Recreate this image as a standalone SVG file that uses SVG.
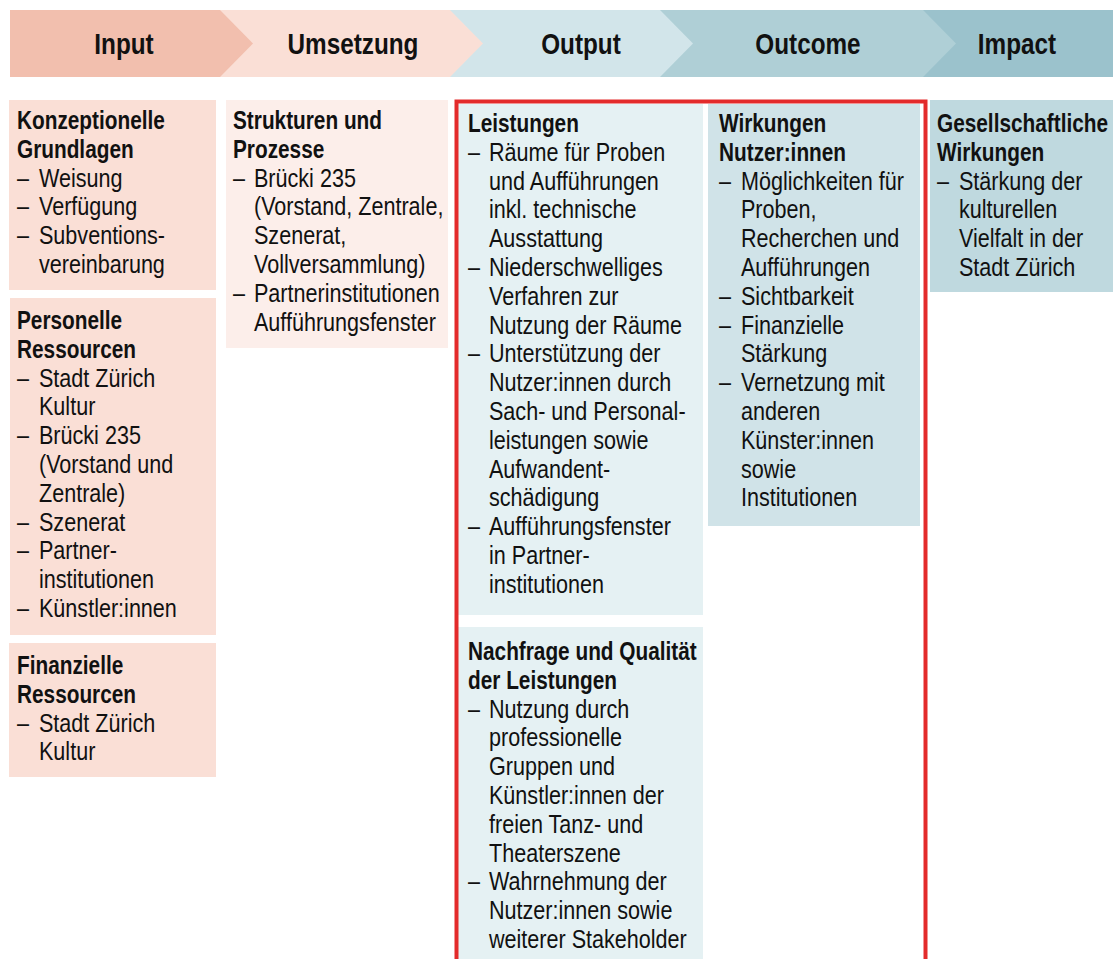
<svg xmlns="http://www.w3.org/2000/svg" width="1113" height="959" viewBox="0 0 1113 959">
<style>
text{font-family:"Liberation Sans",Arial,sans-serif;fill:#111;}
.h{font-size:30px;font-weight:bold;text-anchor:middle;}
.b{font-size:26px;font-weight:bold;}
.t{font-size:26px;}
</style>
<rect width="1113" height="959" fill="#fff"/>
<g id="header">
<g id="hdr-impact"><rect x="923" y="10" width="190" height="67" fill="#9BC2CC"/><g transform="translate(1017,0) scale(0.81,1)"><text class="h" x="0" y="54">Impact</text></g></g>
<g id="hdr-outcome"><polygon points="660,10 923,10 956,43.5 923,77 660,77" fill="#AFCFD6"/><g transform="translate(808,0) scale(0.81,1)"><text class="h" x="0" y="54">Outcome</text></g></g>
<g id="hdr-output"><polygon points="450,10 660,10 693,43.5 660,77 450,77" fill="#D2E5EA"/><g transform="translate(581,0) scale(0.81,1)"><text class="h" x="0" y="54">Output</text></g></g>
<g id="hdr-umsetzung"><polygon points="220,10 450,10 483,43.5 450,77 220,77" fill="#FADFD6"/><g transform="translate(353,0) scale(0.81,1)"><text class="h" x="0" y="54">Umsetzung</text></g></g>
<g id="hdr-input"><polygon points="10,10 220,10 253,43.5 220,77 10,77" fill="#F2BFAE"/><g transform="translate(124,0) scale(0.81,1)"><text class="h" x="0" y="54">Input</text></g></g>
</g>

<g id="konzeptionelle">
<rect x="9" y="100" width="207" height="190" fill="#FADFD6"/>
<g transform="translate(17,0) scale(0.8,1)"><text class="b" x="0" y="129">Konzeptionelle<tspan x="0" dy="28.8">Grundlagen</tspan></text></g>
<g transform="translate(17,0) scale(0.83,1)"><text class="t" y="186.6"><tspan x="0">–</tspan><tspan x="26.5">Weisung</tspan><tspan x="0" dy="28.8">–</tspan><tspan x="26.5">Verfügung</tspan><tspan x="0" dy="28.8">–</tspan><tspan x="26.5">Subventions-</tspan><tspan x="26.5" dy="28.8">vereinbarung</tspan></text></g>
</g>

<g id="personelle">
<rect x="10" y="298" width="206" height="337" fill="#FADFD6"/>
<g transform="translate(17,0) scale(0.8,1)"><text class="b" x="0" y="329">Personelle<tspan x="0" dy="28.8">Ressourcen</tspan></text></g>
<g transform="translate(17,0) scale(0.83,1)"><text class="t" y="386.6"><tspan x="0">–</tspan><tspan x="26.5">Stadt Zürich</tspan><tspan x="26.5" dy="28.8">Kultur</tspan><tspan x="0" dy="28.8">–</tspan><tspan x="26.5">Brücki 235</tspan><tspan x="26.5" dy="28.8">(Vorstand und</tspan><tspan x="26.5" dy="28.8">Zentrale)</tspan><tspan x="0" dy="28.8">–</tspan><tspan x="26.5">Szenerat</tspan><tspan x="0" dy="28.8">–</tspan><tspan x="26.5">Partner-</tspan><tspan x="26.5" dy="28.8">institutionen</tspan><tspan x="0" dy="28.8">–</tspan><tspan x="26.5">Künstler:innen</tspan></text></g>
</g>

<g id="finanzielle">
<rect x="9" y="643" width="207" height="134" fill="#FADFD6"/>
<g transform="translate(17,0) scale(0.8,1)"><text class="b" x="0" y="674">Finanzielle<tspan x="0" dy="28.8">Ressourcen</tspan></text></g>
<g transform="translate(17,0) scale(0.83,1)"><text class="t" y="731.6"><tspan x="0">–</tspan><tspan x="26.5">Stadt Zürich</tspan><tspan x="26.5" dy="28.8">Kultur</tspan></text></g>
</g>

<g id="strukturen">
<rect x="226" y="100" width="222" height="248" fill="#FCEEEA"/>
<g transform="translate(233,0) scale(0.8,1)"><text class="b" x="0" y="129">Strukturen und<tspan x="0" dy="28.8">Prozesse</tspan></text></g>
<g transform="translate(233,0) scale(0.83,1)"><text class="t" y="186.6"><tspan x="0">–</tspan><tspan x="25.3">Brücki 235</tspan><tspan x="25.3" dy="28.8">(Vorstand, Zentrale,</tspan><tspan x="25.3" dy="28.8">Szenerat,</tspan><tspan x="25.3" dy="28.8">Vollversammlung)</tspan><tspan x="0" dy="28.8">–</tspan><tspan x="25.3">Partnerinstitutionen</tspan><tspan x="25.3" dy="28.8">Aufführungsfenster</tspan></text></g>
</g>

<g id="leistungen">
<rect x="458" y="104" width="245" height="511" fill="#E5F1F3"/>
<g transform="translate(468,0) scale(0.8,1)"><text class="b" x="0" y="132">Leistungen</text></g>
<g transform="translate(468,0) scale(0.83,1)"><text class="t" y="160.8"><tspan x="0">–</tspan><tspan x="25.3">Räume für Proben</tspan><tspan x="25.3" dy="28.8">und Aufführungen</tspan><tspan x="25.3" dy="28.8">inkl. technische</tspan><tspan x="25.3" dy="28.8">Ausstattung</tspan><tspan x="0" dy="28.8">–</tspan><tspan x="25.3">Niederschwelliges</tspan><tspan x="25.3" dy="28.8">Verfahren zur</tspan><tspan x="25.3" dy="28.8">Nutzung der Räume</tspan><tspan x="0" dy="28.8">–</tspan><tspan x="25.3">Unterstützung der</tspan><tspan x="25.3" dy="28.8">Nutzer:innen durch</tspan><tspan x="25.3" dy="28.8">Sach- und Personal-</tspan><tspan x="25.3" dy="28.8">leistungen sowie</tspan><tspan x="25.3" dy="28.8">Aufwandent-</tspan><tspan x="25.3" dy="28.8">schädigung</tspan><tspan x="0" dy="28.8">–</tspan><tspan x="25.3">Aufführungsfenster</tspan><tspan x="25.3" dy="28.8">in Partner-</tspan><tspan x="25.3" dy="28.8">institutionen</tspan></text></g>
</g>

<g id="nachfrage">
<rect x="458" y="627" width="245" height="340" fill="#E5F1F3"/>
<g transform="translate(468,0) scale(0.8,1)"><text class="b" x="0" y="660">Nachfrage und Qualität<tspan x="0" dy="28.8">der Leistungen</tspan></text></g>
<g transform="translate(468,0) scale(0.83,1)"><text class="t" y="717.6"><tspan x="0">–</tspan><tspan x="25.3">Nutzung durch</tspan><tspan x="25.3" dy="28.8">professionelle</tspan><tspan x="25.3" dy="28.8">Gruppen und</tspan><tspan x="25.3" dy="28.8">Künstler:innen der</tspan><tspan x="25.3" dy="28.8">freien Tanz- und</tspan><tspan x="25.3" dy="28.8">Theaterszene</tspan><tspan x="0" dy="28.8">–</tspan><tspan x="25.3">Wahrnehmung der</tspan><tspan x="25.3" dy="28.8">Nutzer:innen sowie</tspan><tspan x="25.3" dy="28.8">weiterer Stakeholder</tspan></text></g>
</g>

<g id="wirkungen-nutzer">
<rect x="708" y="104" width="212" height="422" fill="#D0E3E8"/>
<g transform="translate(719,0) scale(0.8,1)"><text class="b" x="0" y="132">Wirkungen<tspan x="0" dy="28.8">Nutzer:innen</tspan></text></g>
<g transform="translate(719,0) scale(0.83,1)"><text class="t" y="189.6"><tspan x="0">–</tspan><tspan x="26.5">Möglichkeiten für</tspan><tspan x="26.5" dy="28.8">Proben,</tspan><tspan x="26.5" dy="28.8">Recherchen und</tspan><tspan x="26.5" dy="28.8">Aufführungen</tspan><tspan x="0" dy="28.8">–</tspan><tspan x="26.5">Sichtbarkeit</tspan><tspan x="0" dy="28.8">–</tspan><tspan x="26.5">Finanzielle</tspan><tspan x="26.5" dy="28.8">Stärkung</tspan><tspan x="0" dy="28.8">–</tspan><tspan x="26.5">Vernetzung mit</tspan><tspan x="26.5" dy="28.8">anderen</tspan><tspan x="26.5" dy="28.8">Künster:innen</tspan><tspan x="26.5" dy="28.8">sowie</tspan><tspan x="26.5" dy="28.8">Institutionen</tspan></text></g>
</g>

<g id="gesellschaftliche">
<rect x="930" y="100" width="183" height="192" fill="#BFD9DF"/>
<g transform="translate(937,0) scale(0.8,1)"><text class="b" x="0" y="132">Gesellschaftliche<tspan x="0" dy="28.8">Wirkungen</tspan></text></g>
<g transform="translate(937,0) scale(0.83,1)"><text class="t" y="189.6"><tspan x="0">–</tspan><tspan x="26.5">Stärkung der</tspan><tspan x="26.5" dy="28.8">kulturellen</tspan><tspan x="26.5" dy="28.8">Vielfalt in der</tspan><tspan x="26.5" dy="28.8">Stadt Zürich</tspan></text></g>
</g>

<g id="focus-frame">
<rect x="456.5" y="101.5" width="469" height="880" fill="none" stroke="#E32B2B" stroke-width="4"/>
</g>
</svg>
